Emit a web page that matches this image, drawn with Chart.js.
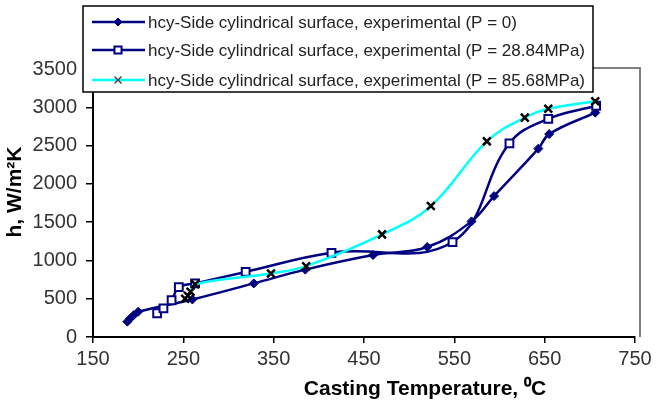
<!DOCTYPE html>
<html>
<head>
<meta charset="utf-8">
<script src="https://cdn.jsdelivr.net/npm/chart.js@4/dist/chart.umd.min.js"></script>
<style>
  html, body { margin: 0; padding: 0; background: #fff; }
  #wrap { position: relative; width: 659px; height: 401px; }
</style>
</head>
<body>
<div id="wrap"><canvas id="htcChart" width="659" height="401"></canvas></div>
<script>
// Heat transfer coefficient vs casting temperature, side cylindrical surface
const seriesNames = [
    'hcy-Side cylindrical surface, experimental (P = 0)',
    'hcy-Side cylindrical surface, experimental (P = 28.84MPa)',
    'hcy-Side cylindrical surface, experimental (P = 85.68MPa)'
];

// P = 0
const tempP0 = [188, 191, 195, 200, 260, 328, 385, 460, 520, 569, 594, 643, 655, 706];
const hP0 = [200, 240, 285, 330, 490, 700, 880, 1070, 1175, 1510, 1840, 2460, 2650, 2930];

// P = 28.84 MPa
const tempP1 = [221, 228, 237, 245, 263, 319, 414, 548, 611, 654, 707];
const hP1 = [310, 375, 480, 650, 700, 850, 1100, 1240, 2530, 2850, 3020];

// P = 85.68 MPa
const tempP2 = [252, 255, 258, 263, 347, 386, 470, 524, 586, 628, 654, 706];
const hP2 = [500, 540, 590, 690, 830, 925, 1340, 1710, 2555, 2865, 2980, 3080];

const xTicks = [150, 250, 350, 450, 550, 650, 750];
const yTicks = [0, 500, 1000, 1500, 2000, 2500, 3000, 3500];

const toPoints = (xs, ys) => xs.map((x, i) => ({ x: x, y: ys[i] }));

const NAVY = '#000080';
const CYAN = '#00FFFF';
const FONT = '"Liberation Sans", Arial, sans-serif';

const styles = [
    { borderColor: NAVY, pointStyle: 'rectRot', pointRadius: 4.5, pointBackgroundColor: NAVY, pointBorderColor: NAVY, pointBorderWidth: 1 },
    { borderColor: NAVY, pointStyle: 'rect', pointRadius: 5.5, pointBackgroundColor: '#fff', pointBorderColor: NAVY, pointBorderWidth: 2 },
    { borderColor: CYAN, pointStyle: 'crossRot', pointRadius: 5.5, pointBackgroundColor: '#000', pointBorderColor: '#000', pointBorderWidth: 2.5 }
];

// legend box + axis titles + grey plot frame
const extras = {
    id: 'extras',
    afterDraw(chart) {
        const ctx = chart.ctx;
        const area = chart.chartArea;
        ctx.save();

        // grey plot area frame (top and right)
        ctx.strokeStyle = '#808080';
        ctx.lineWidth = 2;
        ctx.beginPath();
        ctx.moveTo(area.left, 68);
        ctx.lineTo(640, 68);
        ctx.lineTo(640, area.bottom);
        ctx.stroke();

        // legend
        ctx.fillStyle = '#fff';
        ctx.fillRect(83, 6, 510, 86);
        ctx.strokeStyle = '#000';
        ctx.lineWidth = 1.5;
        ctx.strokeRect(83, 6, 510, 86);
        const rows = [22, 50, 80];
        seriesNames.forEach((name, i) => {
            const st = styles[i];
            const y = rows[i];
            ctx.strokeStyle = st.borderColor;
            ctx.lineWidth = 2.5;
            ctx.beginPath();
            ctx.moveTo(92, y);
            ctx.lineTo(145, y);
            ctx.stroke();
            ctx.fillStyle = i === 2 ? '#333' : st.pointBackgroundColor;
            ctx.strokeStyle = i === 2 ? '#333' : st.pointBorderColor;
            ctx.lineWidth = i === 2 ? 1.2 : st.pointBorderWidth;
            Chart.helpers.drawPoint(ctx, {
                pointStyle: st.pointStyle,
                radius: i === 2 ? 5 : st.pointRadius - 0.5,
                borderWidth: ctx.lineWidth
            }, 118, y);
            ctx.fillStyle = '#222';
            ctx.font = '17px ' + FONT;
            ctx.textBaseline = 'middle';
            ctx.textAlign = 'left';
            ctx.fillText(name, 148, y + 1);
        });

        // axis titles
        ctx.fillStyle = '#000';
        ctx.font = 'bold 21px ' + FONT;
        ctx.textAlign = 'center';
        ctx.textBaseline = 'middle';
        ctx.fillText('Casting Temperature, \u2070C', 425, 389);

        ctx.translate(15, 192);
        ctx.rotate(-Math.PI / 2);
        ctx.fillText('h, W/m\u00B2K', 0, 0);
        ctx.restore();
    }
};

const ctx = document.getElementById('htcChart').getContext('2d');

new Chart(ctx, {
    type: 'scatter',
    data: {
        datasets: [
            { label: seriesNames[0], data: toPoints(tempP0, hP0), order: 3 },
            { label: seriesNames[1], data: toPoints(tempP1, hP1), order: 2 },
            { label: seriesNames[2], data: toPoints(tempP2, hP2), order: 1 }
        ].map((ds, i) => Object.assign(ds, styles[i], {
            showLine: true,
            borderWidth: 2.5,
            tension: 0.4,
            fill: false
        }))
    },
    options: {
        responsive: false,
        animation: false,
        layout: { padding: { top: 69, right: 24, left: 0, bottom: 0 } },
        plugins: {
            legend: { display: false },
            tooltip: { enabled: false }
        },
        scales: {
            x: {
                type: 'linear',
                min: 150,
                max: 750,
                afterBuildTicks: (s) => { s.ticks = xTicks.map(v => ({ value: v })); },
                afterFit: (s) => { s.height = 64; },
                grid: { display: true, drawOnChartArea: false, drawTicks: true, tickLength: 6, color: '#000', lineWidth: 1.5 },
                border: { display: true, color: '#000', width: 2 },
                ticks: {
                    color: '#333',
                    padding: 4,
                    font: { family: FONT, size: 20 },
                    maxRotation: 0,
                    callback: (v) => String(v)
                }
            },
            y: {
                type: 'linear',
                min: 0,
                max: 3500,
                afterBuildTicks: (s) => { s.ticks = yTicks.map(v => ({ value: v })); },
                afterFit: (s) => { s.width = 93; },
                grid: { display: true, drawOnChartArea: false, drawTicks: true, tickLength: 7, color: '#000', lineWidth: 1.5 },
                border: { display: true, color: '#000', width: 2 },
                ticks: {
                    color: '#333',
                    padding: 9,
                    font: { family: FONT, size: 20 },
                    callback: (v) => String(v)
                }
            }
        }
    },
    plugins: [extras]
});
</script>
</body>
</html>
